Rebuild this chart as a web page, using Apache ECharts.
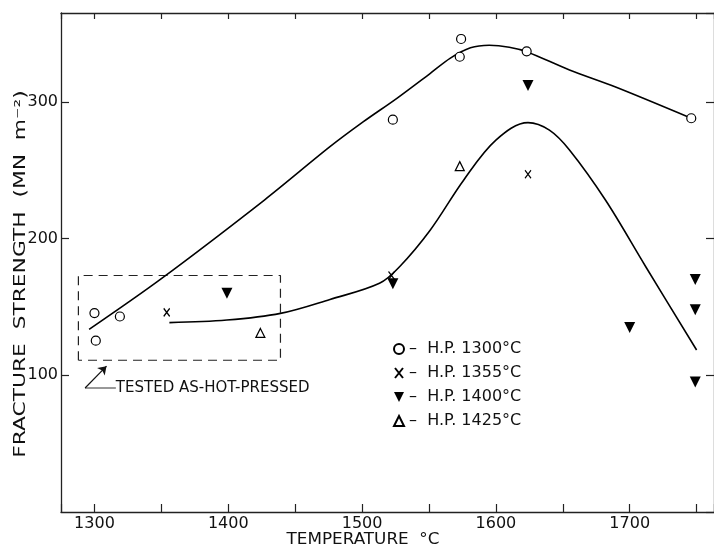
<!DOCTYPE html>
<html>
<head>
<meta charset="utf-8">
<script src="https://cdn.jsdelivr.net/npm/echarts@6/dist/echarts.min.js"></script>
<style>
  html, body { margin: 0; padding: 0; background: #fff; }
  #chart { width: 714px; height: 548px; }
</style>
</head>
<body>
<div id="chart"></div>
<script>
// temperature (°C) vs fracture strength (MN m^-2)
var hp1300 = [[1300, 145.5], [1301, 125.3], [1319, 143], [1523, 287], [1573, 333], [1574, 346], [1623, 337], [1746, 288]];
var hp1355 = [[1354, 146], [1522, 173], [1624, 247]];
var hp1400 = [[1399, 160], [1523, 167], [1624, 312], [1700, 135], [1749, 170], [1749, 148], [1749, 95]];
var hp1425 = [[1424, 131], [1573, 253]];

// hand drawn fit curves
var upperCurve = [[1296, 133.6], [1349, 170], [1427, 228.2], [1476, 267.2],
  [1501, 285.5], [1526, 302.6], [1551, 320.9], [1566, 332], [1581, 339.5], [1595, 341.4], [1610, 340],
  [1623, 336.7], [1655, 323.3], [1689, 311], [1746, 288]];
var lowerCurve = [[1356, 138.5], [1399, 140.4], [1439, 145.3], [1476, 155.5], [1513, 167.3],
  [1528, 179.4], [1551, 206.3], [1576, 242.9], [1600, 272], [1624, 284.8], [1640, 279.3], [1655, 264.8],
  [1682, 228], [1712, 179.4], [1750, 118.5]];

// "tested as-hot-pressed" box and pointer
var boxT = [1288, 1439];
var boxS = [111, 173];
var leader = [[1316, 90.7], [1293, 90.7]];
var arrowTip = [1309, 106.7];
var noteText = 'TESTED AS-HOT-PRESSED';

var names = ['H.P. 1300°C', 'H.P. 1355°C', 'H.P. 1400°C', 'H.P. 1425°C'];

var FONT = 'DejaVu Sans';
var INK = '#111';

var chart = echarts.init(document.getElementById('chart'));

var tickStyle = { color: '#222', width: 1.2 };
function xAx(top) {
  return {
    type: 'value', position: top ? 'top' : 'bottom',
    min: 1275, max: 1763, splitNumber: 5,
    axisLine: { onZero: false, lineStyle: { color: '#222', width: 1.3 } },
    axisTick: { inside: true, length: top ? 6 : 8, lineStyle: tickStyle },
    minorTick: { show: true, splitNumber: 2, length: top ? 6 : 8, lineStyle: tickStyle },
    splitLine: { show: false },
    axisLabel: {
      show: !top, showMinLabel: false, showMaxLabel: false, margin: 4,
      fontSize: 16, fontFamily: FONT, color: INK,
      formatter: function (v) { return String(v); }
    }
  };
}
function yAx(right) {
  return {
    type: 'value', position: right ? 'right' : 'left',
    min: 0, max: 365, interval: 100,
    axisLine: { onZero: false, lineStyle: { color: '#222', width: 1.3 } },
    axisTick: { inside: true, length: 8, lineStyle: tickStyle },
    splitLine: { show: false },
    axisLabel: {
      show: !right, showMinLabel: false, showMaxLabel: false, margin: 3,
      fontSize: 16, fontFamily: FONT, color: INK
    }
  };
}

var box = [[boxT[0], boxS[0]], [boxT[0], boxS[1]], [boxT[1], boxS[1]], [boxT[1], boxS[0]], [boxT[0], boxS[0]]];

var option = {
  animation: false,
  backgroundColor: '#fff',
  grid: { left: 61, right: 0, top: 13, bottom: 36 },
  xAxis: [xAx(false), xAx(true)],
  yAxis: [yAx(false), yAx(true)],
  legend: {
    data: names, orient: 'vertical', left: 388, top: 336,
    itemWidth: 10, itemHeight: 10, itemGap: 8, selectedMode: false,
    formatter: '–  {name}',
    textStyle: { fontSize: 16, fontFamily: FONT, color: INK }
  },
  graphic: [
    {
      type: 'text', x: 363, y: 540, scaleX: 1.05,
      style: { text: 'TEMPERATURE  °C', fontSize: 16, fontFamily: FONT, fill: INK,
        textAlign: 'center', textVerticalAlign: 'middle', align: 'center', verticalAlign: 'middle' }
    },
    {
      type: 'text', x: 21, y: 274, rotation: Math.PI / 2, scaleX: 1.36,
      style: { text: 'FRACTURE  STRENGTH  (MN  m⁻²)', fontSize: 16, fontFamily: FONT, fill: INK,
        textAlign: 'center', textVerticalAlign: 'middle', align: 'center', verticalAlign: 'middle' }
    }
  ],
  series: [
    { type: 'line', data: upperCurve, smooth: 0.3, symbol: 'none', silent: true,
      lineStyle: { color: '#000', width: 1.6 }, z: 2 },
    { type: 'line', data: lowerCurve, smooth: 0.35, symbol: 'none', silent: true,
      lineStyle: { color: '#000', width: 1.6 }, z: 2 },
    { type: 'line', data: box, symbol: 'none', silent: true,
      lineStyle: { color: '#222', width: 1.2, type: [9, 6] }, z: 1 },
    { type: 'line', data: leader, symbol: 'none', silent: true,
      lineStyle: { color: '#333', width: 1 },
      markLine: {
        silent: true, symbol: ['none', 'arrow'], symbolSize: 8,
        label: { show: false },
        lineStyle: { color: '#111', width: 1.2, type: 'solid' },
        data: [[{ coord: leader[1] }, { coord: arrowTip }]]
      } },
    { type: 'scatter', data: [leader[0]], symbolSize: 0, silent: true,
      itemStyle: { opacity: 1 },
      label: { show: true, position: 'right', distance: 0, formatter: noteText,
        fontSize: 15, fontFamily: FONT, color: INK, opacity: 1 } },
    { name: names[0], type: 'scatter', data: hp1300, symbol: 'circle', symbolSize: 9, z: 5,
      itemStyle: { color: '#fff', borderColor: '#000', borderWidth: 1.2, opacity: 1 } },
    { name: names[1], type: 'scatter', data: hp1355, symbol: 'path://M0,0L8,10M8,0L0,10', symbolSize: [6, 8], z: 5,
      itemStyle: { color: 'rgba(0,0,0,0)', borderColor: '#000', borderWidth: 1.3, opacity: 1 } },
    { name: names[2], type: 'scatter', data: hp1400, symbol: 'path://M0,0L10,0L5,10Z', symbolSize: [11, 11], z: 5,
      itemStyle: { color: '#000', opacity: 1 } },
    { name: names[3], type: 'scatter', data: hp1425, symbol: 'triangle', symbolSize: 9, z: 5,
      itemStyle: { color: '#fff', borderColor: '#000', borderWidth: 1.2, opacity: 1 } }
  ]
};
chart.setOption(option);
</script>
</body>
</html>
